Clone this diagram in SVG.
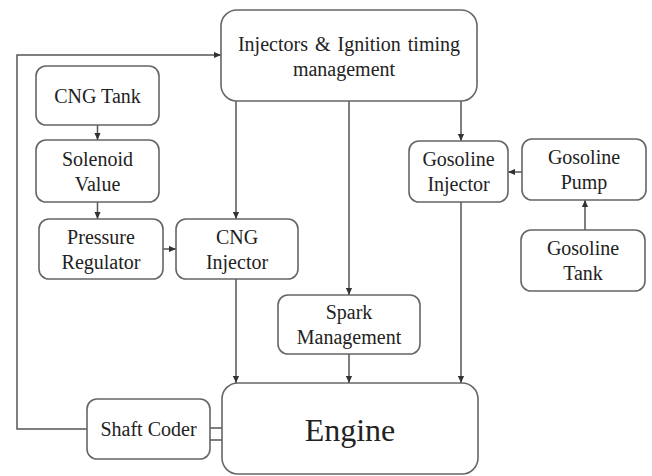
<svg xmlns="http://www.w3.org/2000/svg" width="652" height="476" viewBox="0 0 652 476">
  <defs>
    <marker id="arrow" viewBox="0 0 8 8" refX="8" refY="4" markerWidth="7" markerHeight="7" markerUnits="userSpaceOnUse" orient="auto">
      <path d="M0,0.5 L8,4 L0,7.5 Z" fill="#333"/>
    </marker>
    <style>
      .box { fill: #fff; stroke: #666; stroke-width: 1.6; }
      .lbl { font-size: 20px; fill: #222; text-anchor: middle; }
      .big { font-size: 32px; }
      .wire { fill: none; stroke: #555; stroke-width: 1.5; }
      .arr { marker-end: url(#arrow); }
    </style>
  </defs>
  <rect width="652" height="476" fill="#fff"/>

  <g id="connectors">
    <path class="wire arr" d="M87,429 H17 V55 H221"/>
    <path class="wire arr" d="M97.5,125 V140"/>
    <path class="wire arr" d="M97.5,202 V219"/>
    <path class="wire arr" d="M163,249 H176"/>
    <path class="wire arr" d="M236,101 V219"/>
    <path class="wire arr" d="M349,101 V295"/>
    <path class="wire arr" d="M461,101 V141"/>
    <path class="wire arr" d="M236,279 V383"/>
    <path class="wire arr" d="M349,354 V383"/>
    <path class="wire arr" d="M461,202 V383"/>
    <path class="wire arr" d="M522,172 H508"/>
    <path class="wire arr" d="M585,230 V200"/>
    <path class="wire" d="M210,428 H222 M210,440 H222"/>
  </g>

  <g font-family="Liberation Serif, DejaVu Serif, serif">
  <g id="timing-management">
    <rect class="box" x="221" y="10" width="256" height="91" rx="16"/>
    <text class="lbl" x="349" y="51" word-spacing="2">Injectors &amp; Ignition timing</text>
    <text class="lbl" x="344" y="76">management</text>
  </g>

  <g id="cng-tank">
    <rect class="box" x="36" y="66" width="123" height="59" rx="10"/>
    <text class="lbl" x="97.5" y="103">CNG Tank</text>
  </g>

  <g id="solenoid-valve">
    <rect class="box" x="36" y="140" width="123" height="62" rx="10"/>
    <text class="lbl" x="97.5" y="166">Solenoid</text>
    <text class="lbl" x="97.5" y="191">Value</text>
  </g>

  <g id="pressure-regulator">
    <rect class="box" x="39" y="219" width="124" height="60" rx="10"/>
    <text class="lbl" x="101" y="244">Pressure</text>
    <text class="lbl" x="101" y="269">Regulator</text>
  </g>

  <g id="cng-injector">
    <rect class="box" x="176" y="219" width="122" height="60" rx="10"/>
    <text class="lbl" x="237" y="244">CNG</text>
    <text class="lbl" x="237" y="269">Injector</text>
  </g>

  <g id="spark-management">
    <rect class="box" x="278" y="295" width="142" height="59" rx="10"/>
    <text class="lbl" x="349" y="319">Spark</text>
    <text class="lbl" x="349" y="344">Management</text>
  </g>

  <g id="gasoline-injector">
    <rect class="box" x="409" y="141" width="99" height="61" rx="10"/>
    <text class="lbl" x="458.5" y="166">Gosoline</text>
    <text class="lbl" x="458.5" y="191">Injector</text>
  </g>

  <g id="gasoline-pump">
    <rect class="box" x="522" y="139" width="124" height="61" rx="10"/>
    <text class="lbl" x="584" y="164">Gosoline</text>
    <text class="lbl" x="584" y="189">Pump</text>
  </g>

  <g id="gasoline-tank">
    <rect class="box" x="521" y="230" width="124" height="61" rx="10"/>
    <text class="lbl" x="583" y="255">Gosoline</text>
    <text class="lbl" x="583" y="280">Tank</text>
  </g>

  <g id="shaft-coder">
    <rect class="box" x="87" y="399" width="123" height="60" rx="10"/>
    <text class="lbl" x="148.5" y="436">Shaft Coder</text>
  </g>

  <g id="engine">
    <rect class="box" x="222" y="383" width="256" height="91" rx="16"/>
    <text class="lbl big" x="350" y="441">Engine</text>
  </g>
  </g>
</svg>
